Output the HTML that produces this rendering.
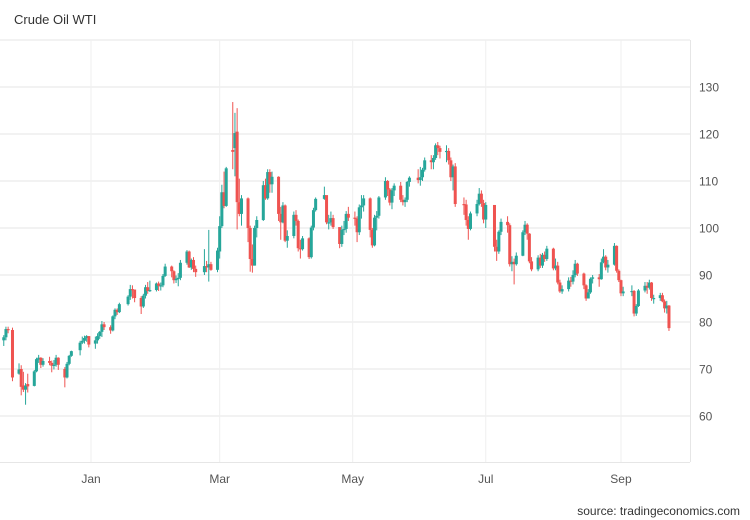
<!DOCTYPE html>
<html><head><meta charset="utf-8"><style>
body{margin:0;background:#fff;font-family:"Liberation Sans",sans-serif}
#wrap{position:relative;width:750px;height:520px;overflow:hidden}
</style></head><body>
<div id="wrap">
<svg id="chart" width="750" height="520">
<text x="14" y="24" font-size="13" fill="#333">Crude Oil WTI</text>
<g id="grid"></g>
<g id="candles"></g>
<g id="yaxis"></g>
<g id="xaxis"></g>
<text x="740" y="515" font-size="12" fill="#333" text-anchor="end">source: tradingeconomics.com</text>
</svg>
</div>
<script>
const dates=["2021-11-22","2021-11-23","2021-11-24","2021-11-26","2021-11-29","2021-11-30",
"2021-12-01","2021-12-02","2021-12-03","2021-12-06","2021-12-07","2021-12-08","2021-12-09","2021-12-10","2021-12-13","2021-12-14","2021-12-15","2021-12-16","2021-12-17","2021-12-20","2021-12-21","2021-12-22","2021-12-23","2021-12-27","2021-12-28","2021-12-29","2021-12-30","2021-12-31",
"2022-01-03","2022-01-04","2022-01-05","2022-01-06","2022-01-07","2022-01-10","2022-01-11","2022-01-12","2022-01-13","2022-01-14","2022-01-18","2022-01-19","2022-01-20","2022-01-21","2022-01-24","2022-01-25","2022-01-26","2022-01-27","2022-01-28","2022-01-31",
"2022-02-01","2022-02-02","2022-02-03","2022-02-04","2022-02-07","2022-02-08","2022-02-09","2022-02-10","2022-02-11","2022-02-14","2022-02-15","2022-02-16","2022-02-17","2022-02-18","2022-02-22","2022-02-23","2022-02-24","2022-02-25","2022-02-28",
"2022-03-01","2022-03-02","2022-03-03","2022-03-04","2022-03-07","2022-03-08","2022-03-09","2022-03-10","2022-03-11","2022-03-14","2022-03-15","2022-03-16","2022-03-17","2022-03-18","2022-03-21","2022-03-22","2022-03-23","2022-03-24","2022-03-25","2022-03-28","2022-03-29","2022-03-30","2022-03-31",
"2022-04-01","2022-04-04","2022-04-05","2022-04-06","2022-04-07","2022-04-08","2022-04-11","2022-04-12","2022-04-13","2022-04-14","2022-04-18","2022-04-19","2022-04-20","2022-04-21","2022-04-22","2022-04-25","2022-04-26","2022-04-27","2022-04-28","2022-04-29",
"2022-05-02","2022-05-03","2022-05-04","2022-05-05","2022-05-06","2022-05-09","2022-05-10","2022-05-11","2022-05-12","2022-05-13","2022-05-16","2022-05-17","2022-05-18","2022-05-19","2022-05-20","2022-05-23","2022-05-24","2022-05-25","2022-05-26","2022-05-27","2022-05-31",
"2022-06-01","2022-06-02","2022-06-03","2022-06-06","2022-06-07","2022-06-08","2022-06-09","2022-06-10","2022-06-13","2022-06-14","2022-06-15","2022-06-16","2022-06-17","2022-06-21","2022-06-22","2022-06-23","2022-06-24","2022-06-27","2022-06-28","2022-06-29","2022-06-30",
"2022-07-01","2022-07-05","2022-07-06","2022-07-07","2022-07-08","2022-07-11","2022-07-12","2022-07-13","2022-07-14","2022-07-15","2022-07-18","2022-07-19","2022-07-20","2022-07-21","2022-07-22","2022-07-25","2022-07-26","2022-07-27","2022-07-28","2022-07-29",
"2022-08-01","2022-08-02","2022-08-03","2022-08-04","2022-08-05","2022-08-08","2022-08-09","2022-08-10","2022-08-11","2022-08-12","2022-08-15","2022-08-16","2022-08-17","2022-08-18","2022-08-19","2022-08-22","2022-08-23","2022-08-24","2022-08-25","2022-08-26","2022-08-29","2022-08-30","2022-08-31",
"2022-09-01","2022-09-02","2022-09-06","2022-09-07","2022-09-08","2022-09-09","2022-09-12","2022-09-13","2022-09-14","2022-09-15","2022-09-16","2022-09-19","2022-09-20","2022-09-21","2022-09-22","2022-09-23"];
const openP=[76.1,76.75,78.5,78.3,69.0,70.0,
66.5,65.6,66.8,66.4,69.5,72.0,72.4,70.9,71.7,71.3,70.7,70.9,72.4,70.0,68.2,71.1,72.8,74.0,75.6,76.0,76.6,77.0,
75.4,76.1,77.0,77.9,79.5,78.9,78.2,81.2,82.6,82.1,83.8,85.4,87.0,86.9,85.1,83.3,85.6,87.4,86.6,86.8,
88.2,87.7,87.8,89.8,91.8,90.8,88.9,89.2,89.4,92.6,95.0,91.6,93.2,91.3,90.6,91.9,91.6,92.3,91.1,
95.0,100.4,107.6,104.7,116.6,117.0,120.5,105.5,103.0,106.3,100.0,93.4,92.0,100.0,101.7,109.1,106.3,111.9,109.3,110.9,103.0,101.2,104.8,
97.3,98.3,102.8,101.5,95.7,95.5,97.8,93.8,100.1,103.8,106.2,107.0,101.2,101.2,102.1,100.2,96.6,99.6,99.8,103.0,
102.2,102.0,99.1,104.4,104.8,106.3,99.6,96.3,102.2,102.6,106.5,110.0,108.2,105.4,108.0,109.0,106.0,105.5,106.0,109.8,110.7,
110.2,110.8,112.4,114.4,114.0,114.9,117.6,117.0,116.2,116.4,114.4,110.8,113.1,105.1,105.0,101.7,99.8,103.1,105.1,107.3,105.3,
101.8,104.9,96.0,95.0,99.2,101.3,100.6,92.3,92.8,92.3,94.1,99.1,100.7,98.8,92.9,91.2,93.7,92.0,94.3,93.4,
95.6,91.4,92.0,88.4,86.5,87.0,88.8,88.6,90.0,92.4,90.3,87.8,85.0,86.3,89.2,89.5,89.1,92.7,93.9,91.6,92.2,96.2,90.9,
88.9,86.1,86.5,86.6,81.8,83.4,86.7,87.7,87.3,88.4,85.1,85.1,85.7,84.4,82.9,83.5];
const highP=[77.2,79.0,79.0,78.8,71.2,70.8,
69.4,67.0,69.0,69.8,72.4,73.0,72.5,72.3,72.6,71.8,71.9,73.0,72.5,70.4,71.5,73.0,73.9,76.0,76.9,77.1,77.2,77.0,
76.9,77.6,78.1,80.2,80.0,79.3,81.4,82.9,82.9,84.1,85.7,87.9,87.8,86.9,85.5,86.0,87.9,88.5,88.8,88.4,
88.6,88.4,90.2,92.4,92.0,91.0,89.9,90.4,93.2,95.3,95.2,93.5,93.8,92.0,95.5,93.0,99.6,92.8,95.8,
102.5,109.2,112.0,113.0,126.8,124.5,125.5,110.5,107.0,106.5,100.5,96.5,100.5,102.5,110.0,110.5,112.5,112.5,112.0,111.0,104.5,105.5,105.0,
99.5,103.5,103.8,101.8,97.5,98.3,98.0,100.5,104.3,106.5,108.8,106.8,102.8,103.5,102.8,100.0,100.5,101.5,103.6,104.5,
103.5,102.5,105.0,107.0,107.0,106.5,100.0,102.8,103.6,106.8,110.8,110.2,108.5,108.5,109.5,109.8,107.0,106.5,110.0,111.0,112.5,
113.0,112.8,115.0,115.5,115.5,118.0,118.3,117.5,117.6,117.0,115.0,113.5,113.8,106.5,106.0,102.5,103.5,106.0,108.5,108.0,106.0,
105.5,104.5,97.5,99.5,102.0,102.5,101.0,94.0,93.5,94.8,99.5,101.5,101.0,98.9,93.8,94.2,94.5,94.7,95.0,96.2,
95.8,93.5,92.8,89.0,87.8,89.5,89.6,91.0,93.2,92.6,90.5,88.0,87.0,89.5,90.0,90.2,93.5,95.5,94.2,93.2,96.8,96.3,91.2,
89.0,87.5,87.8,86.8,83.8,87.0,88.5,88.5,89.0,88.5,85.8,86.2,86.2,84.8,84.5,83.6];
const lowP=[74.9,76.1,77.6,67.4,68.8,64.4,
65.1,62.4,65.0,66.3,69.3,71.3,70.2,70.5,70.8,69.3,69.9,70.5,69.8,66.1,68.0,70.8,72.6,72.9,75.3,75.4,75.8,74.6,
74.3,75.4,76.4,76.8,78.3,77.5,78.0,80.6,81.5,81.9,83.5,84.7,85.0,84.2,81.7,83.0,85.0,86.0,86.4,86.5,
86.6,86.7,87.4,89.6,89.5,88.2,88.3,87.6,88.9,92.2,91.5,91.1,90.6,89.6,90.0,90.6,88.6,90.9,90.6,
93.5,100.0,104.2,104.5,112.5,111.0,99.7,102.5,100.5,97.0,90.7,90.5,92.0,98.0,101.5,106.0,106.0,107.5,107.5,101.5,97.5,101.0,97.0,
95.8,97.8,100.5,95.0,93.5,95.2,93.4,93.5,99.5,103.5,106.0,100.8,99.7,100.5,99.8,95.7,96.0,98.5,99.0,101.5,
100.5,97.0,98.5,102.0,103.5,98.0,95.8,96.1,99.5,102.0,106.0,106.8,104.8,104.0,106.8,105.5,104.8,104.5,105.5,108.8,109.5,
109.0,110.0,112.0,112.5,112.5,114.5,115.5,114.8,114.0,113.5,110.0,108.0,104.5,102.8,100.5,97.5,99.5,102.5,104.8,104.5,101.0,
100.0,95.0,93.0,94.5,98.5,99.0,91.8,90.8,88.0,92.0,94.0,98.5,97.5,92.5,90.8,90.8,91.5,91.5,92.8,93.0,
91.0,91.0,88.0,86.2,86.0,86.5,87.5,88.0,89.5,89.8,87.0,84.5,85.0,86.0,88.2,87.5,89.0,92.5,91.0,90.5,92.0,90.5,88.5,
85.5,85.5,85.5,81.2,81.3,83.2,86.3,86.0,86.9,84.5,83.9,84.5,84.2,82.0,81.8,78.1];
const closeP=[76.75,78.5,78.4,68.2,69.9,66.2,
65.6,66.5,66.3,69.5,72.1,72.4,70.9,71.7,71.3,70.7,70.9,72.4,70.9,68.2,71.1,72.8,73.8,75.6,76.0,76.6,77.0,75.2,
76.1,77.0,77.9,79.5,78.9,78.2,81.2,82.6,82.1,83.8,85.4,87.0,86.9,85.1,83.3,85.6,87.4,86.6,86.8,88.2,
87.7,87.8,89.8,91.8,90.8,88.9,89.2,89.4,92.6,95.0,91.6,93.2,91.3,90.6,91.9,91.6,92.3,91.1,95.2,
100.4,107.6,104.7,112.7,116.2,120.2,105.5,103.0,106.3,100.0,93.4,92.0,100.0,101.7,109.1,106.3,111.9,109.3,110.9,103.0,101.2,104.8,97.3,
98.3,102.8,101.5,95.7,95.5,97.8,93.8,100.1,103.8,106.2,107.0,101.2,101.2,102.1,100.2,96.6,99.6,99.8,103.0,102.2,
102.0,99.1,104.4,104.8,106.3,99.6,96.3,102.2,102.6,106.5,110.0,108.2,105.4,108.0,109.0,106.0,105.5,106.0,109.8,110.7,110.2,
110.8,112.4,114.4,114.0,114.9,117.6,117.0,116.2,116.4,114.4,110.8,113.1,105.1,105.0,101.7,99.8,103.1,105.1,107.3,105.3,101.8,
104.9,96.0,95.0,99.2,101.3,100.6,92.3,92.8,92.3,94.1,99.1,100.7,98.8,92.9,91.2,93.7,92.0,94.3,93.4,95.6,
91.4,92.0,88.4,86.5,87.0,88.8,88.6,90.0,92.4,90.3,87.8,85.0,86.3,89.2,89.5,89.1,92.7,93.9,91.6,92.2,96.2,90.9,88.9,
86.1,86.5,86.6,81.8,83.4,86.7,87.7,87.3,88.4,85.1,85.1,85.7,84.4,82.9,83.5,78.7];
const yTicks=[60,70,80,90,100,110,120,130];
const xTickDates=["2022-01-01","2022-03-01","2022-05-01","2022-07-01","2022-09-01"];
const xTickLabels=["Jan","Mar","May","Jul","Sep"];

const NS="http://www.w3.org/2000/svg";
const T0=Date.UTC(2022,0,1);
function xScale(d){const p=d.split('-');const t=Date.UTC(+p[0],+p[1]-1,+p[2]);return 91+(t-T0)/86400000*2.181;}
function yScale(v){return 322-(v-80)*4.7;}
function mk(tag,attrs,parent){const e=document.createElementNS(NS,tag);for(const k in attrs)e.setAttribute(k,attrs[k]);parent.appendChild(e);return e;}

const grid=document.getElementById('grid');
mk('line',{x1:0,x2:690,y1:40,y2:40,stroke:'#e6e6e6'},grid);
mk('line',{x1:0,x2:690,y1:462.5,y2:462.5,stroke:'#e6e6e6'},grid);
mk('line',{x1:690.5,x2:690.5,y1:40,y2:462,stroke:'#e6e6e6'},grid);
const yaxis=document.getElementById('yaxis');
yTicks.forEach(v=>{
  const y=yScale(v);
  const l=mk('line',{x1:0,x2:690,y1:y,y2:y,stroke:'#e6e6e6'},grid);
  
  
  const t=mk('text',{x:699,y:y+4.5,'font-size':12,fill:'#555'},yaxis);
  t.textContent=v;
  
  
});
const xaxis=document.getElementById('xaxis');
xTickDates.forEach((d,i)=>{
  const x=xScale(d);
  const l=mk('line',{x1:x,x2:x,y1:40,y2:462,stroke:'#efefef'},grid);
  
  
  const t=mk('text',{x:x,y:483,'font-size':12,fill:'#555','text-anchor':'middle'},xaxis);
  t.textContent=xTickLabels[i];
  
  
});
const cg=document.getElementById('candles');
dates.forEach((d,i)=>{
  const x=xScale(d);
  const o=openP[i],c=closeP[i];
  const col=c>=o?'#26a69a':'#ef5350';
  const g=mk('g',{},cg);
  
  
  mk('line',{x1:x,x2:x,y1:yScale(highP[i]),y2:yScale(lowP[i]),stroke:col,'stroke-width':1},g);
  const top=yScale(Math.max(o,c)),bot=yScale(Math.min(o,c));
  mk('rect',{x:x-1.5,y:top,width:3,height:Math.max(1.2,bot-top),fill:col},g);
});
</script>
</body></html>
